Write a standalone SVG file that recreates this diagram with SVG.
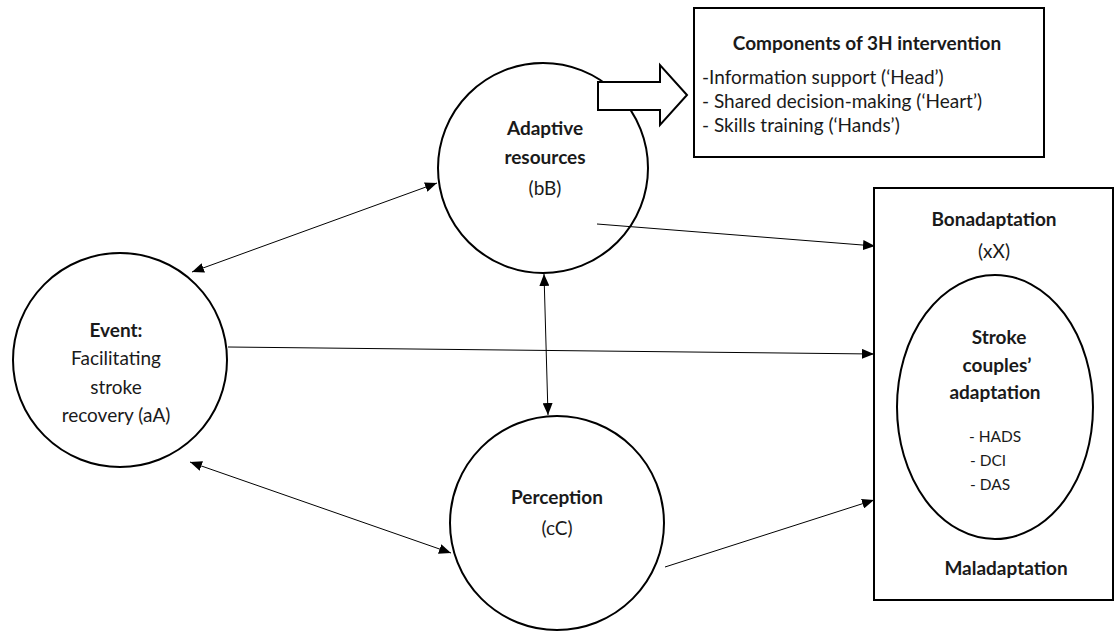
<svg xmlns="http://www.w3.org/2000/svg" width="1116" height="632" viewBox="0 0 1116 632">
  <style>
    .shape { fill: #fff; stroke: #000; stroke-width: 2; }
    .conn { stroke: #000; stroke-width: 1; fill: none; }
    text { font-family: Lato, "Open Sans", "Liberation Sans", sans-serif; fill: #1a1a1a; font-size: 19px; }
    .b { font-weight: bold; }
    .c { text-anchor: middle; }
    .s { font-size: 15.5px; }
  </style>
  <defs>
    <marker id="head" viewBox="0 0 12 10" refX="12" refY="5" markerWidth="12" markerHeight="10" markerUnits="userSpaceOnUse" orient="auto-start-reverse">
      <path d="M0,0 L12,5 L0,10 Z" fill="#000"/>
    </marker>
  </defs>
  <rect width="1116" height="632" fill="#fff"/>

  <!-- intervention components box -->
  <g id="intervention">
    <rect class="shape" x="694" y="8" width="350" height="149"/>
    <text class="b c" x="867" y="50">Components of 3H intervention</text>
    <text x="702" y="84">-Information support (‘Head’)</text>
    <text x="702" y="108">- Shared decision-making (‘Heart’)</text>
    <text x="702" y="132">- Skills training (‘Hands’)</text>
  </g>

  <!-- event -->
  <g id="event">
    <circle class="shape" cx="120" cy="360" r="107"/>
    <text class="b c" x="116" y="337">Event:</text>
    <text class="c" x="116" y="365">Facilitating</text>
    <text class="c" x="116" y="394">stroke</text>
    <text class="c" x="116" y="422">recovery (aA)</text>
  </g>

  <!-- adaptive resources -->
  <g id="resources">
    <circle class="shape" cx="543" cy="168" r="105"/>
    <text class="b c" x="545" y="135">Adaptive</text>
    <text class="b c" x="545" y="164">resources</text>
    <text class="c" x="545" y="195">(bB)</text>
  </g>

  <!-- block arrow pointing to the intervention box -->
  <g id="block-arrow">
    <path class="shape" d="M598,82 L660,82 L660,65 L687,95 L660,125 L660,110 L598,110 Z"/>
  </g>

  <!-- perception -->
  <g id="perception">
    <circle class="shape" cx="557" cy="523" r="107"/>
    <text class="b c" x="557" y="504">Perception</text>
    <text class="c" x="557" y="535">(cC)</text>
  </g>

  <!-- adaptation outcome -->
  <g id="adaptation">
    <rect class="shape" x="874" y="188" width="239" height="412"/>
    <text class="b c" x="994" y="226">Bonadaptation</text>
    <text class="c" x="994" y="258">(xX)</text>
    <ellipse class="shape" cx="995" cy="407" rx="98" ry="132"/>
    <text class="b c" x="999" y="344">Stroke</text>
    <text class="b c" x="997" y="372">couples’</text>
    <text class="b c" x="995" y="399">adaptation</text>
    <text class="s" x="969" y="442">- HADS</text>
    <text class="s" x="970" y="466">- DCI</text>
    <text class="s" x="970" y="490">- DAS</text>
    <text class="b c" x="1006" y="575">Maladaptation</text>
  </g>

  <!-- connectors -->
  <g id="connectors">
    <line class="conn" x1="192" y1="272" x2="437" y2="183" marker-start="url(#head)" marker-end="url(#head)"/>
    <line class="conn" x1="597" y1="224" x2="875" y2="246" marker-end="url(#head)"/>
    <line class="conn" x1="228" y1="347" x2="874" y2="354" marker-end="url(#head)"/>
    <line class="conn" x1="544" y1="274" x2="548" y2="415" marker-start="url(#head)" marker-end="url(#head)"/>
    <line class="conn" x1="190" y1="462" x2="451" y2="553" marker-start="url(#head)" marker-end="url(#head)"/>
    <line class="conn" x1="665" y1="567" x2="874" y2="500" marker-end="url(#head)"/>
  </g>
</svg>
